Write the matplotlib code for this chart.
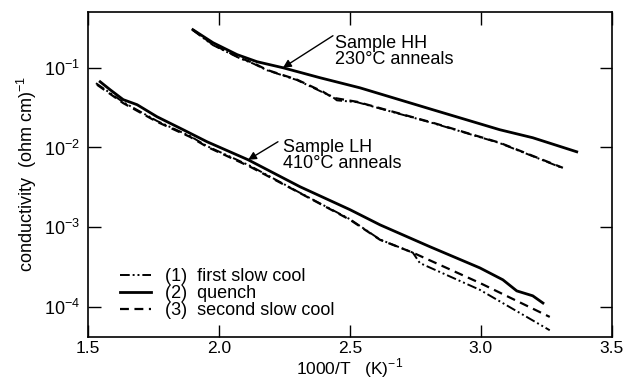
import numpy as np
import matplotlib
matplotlib.use('Agg')
from matplotlib import pyplot as plt

plt.rcParams['font.family'] = ['Liberation Sans', 'DejaVu Sans']
plt.rcParams['mathtext.fontset'] = 'custom'
plt.rcParams['mathtext.rm'] = 'Liberation Sans'

# sample HH (230 C anneals)
hh_x_q = [1.90, 1.977, 2.069, 2.145, 2.244, 2.385, 2.538, 2.817, 3.072, 3.198, 3.366]
hh_y_q = [0.300, 0.206, 0.146, 0.119, 0.100, 0.075, 0.056, 0.0297, 0.0167, 0.01325, 0.00883]
hh_x_s2 = [1.90, 1.977, 2.08, 2.13, 2.183, 2.298, 2.397, 2.435, 2.527, 2.817, 3.072, 3.313]
hh_y_s2 = [0.300, 0.195, 0.133, 0.115, 0.094, 0.0708, 0.050, 0.042, 0.0374, 0.0204, 0.01146, 0.00556]
hh_x_s1 = [1.90, 1.977, 2.08, 2.13, 2.183, 2.298, 2.397, 2.43, 2.45, 2.527, 2.817, 3.072, 3.313]
hh_y_s1 = [0.295, 0.192, 0.131, 0.113, 0.093, 0.070, 0.049, 0.044, 0.039, 0.0370, 0.0202, 0.01135, 0.0055]

# sample LH (410 C anneals)
lh_x_q = [1.546, 1.584, 1.634, 1.687, 1.763, 1.863, 1.954, 2.111, 2.309, 2.5, 2.615, 2.805, 2.996, 3.084, 3.137, 3.198, 3.237]
lh_y_q = [0.0667, 0.053, 0.0398, 0.0344, 0.0243, 0.0167, 0.0118, 0.00701, 0.00322, 0.00166, 0.00107, 5.7e-4, 3.09e-4, 2.19e-4, 1.59e-4, 1.38e-4, 1.12e-4]
lh_x_s2 = [1.534, 1.634, 1.763, 1.889, 1.954, 2.118, 2.309, 2.5, 2.615, 2.74, 2.996, 3.263]
lh_y_s2 = [0.0612, 0.036, 0.021, 0.0136, 0.0102, 0.00575, 0.00268, 0.00124, 6.95e-4, 4.8e-4, 2.0e-4, 7.5e-5]
lh_x_s1 = [1.53, 1.634, 1.763, 1.889, 1.954, 2.118, 2.309, 2.5, 2.615, 2.74, 2.767, 2.996, 3.263]
lh_y_s1 = [0.064, 0.037, 0.0215, 0.0139, 0.0104, 0.0059, 0.0027, 0.00126, 7.0e-4, 4.8e-4, 3.55e-4, 1.64e-4, 5.1e-5]

xticks = [1.5, 2.0, 2.5, 3.0, 3.5]
yticks = [1e-1, 1e-2, 1e-3, 1e-4]
ytick_labels = [r'10$^{-1}$', r'10$^{-2}$', r'10$^{-3}$', r'10$^{-4}$']
leg_labels = ['(1)  first slow cool', '(2)  quench', '(3)  second slow cool']

FS = 13

fig = plt.figure(figsize=(6.34, 3.81), dpi=100)
ax = fig.add_axes([0.139, 0.1155, 0.826, 0.853])

dd = (0, (5, 1.5, 1, 1.5, 1, 1.5))
ds = (0, (4, 2.5))
l1, = ax.plot(lh_x_s1, lh_y_s1, color='k', lw=1.4, linestyle=dd)
l2, = ax.plot(lh_x_q, lh_y_q, color='k', lw=2.0)
l3, = ax.plot(lh_x_s2, lh_y_s2, color='k', lw=1.6, linestyle=ds)
ax.plot(hh_x_s1, hh_y_s1, color='k', lw=1.4, linestyle=dd)
ax.plot(hh_x_q, hh_y_q, color='k', lw=2.0)
ax.plot(hh_x_s2, hh_y_s2, color='k', lw=1.6, linestyle=ds)

ax.set_yscale('log')
ax.set_xlim(1.5, 3.5)
ax.set_ylim(4.2e-5, 0.5)
ax.set_xticks(xticks)
ax.set_xticklabels(['%.1f' % v for v in xticks])
ax.set_yticks(yticks)
ax.set_yticklabels(ytick_labels)
ax.minorticks_off()
ax.tick_params(direction='in', length=9, width=1, top=True, right=True, labelsize=FS, pad=6)
ax.tick_params(axis='x', pad=3, labelsize=12.5)
for s in ax.spines.values():
    s.set_linewidth(1.2)

ax.set_ylabel(r'conductivity  (ohm cm)$^{-1}$', fontsize=FS, labelpad=3)
fig.text(0.552, 0.002, r'1000/T   (K)$^{-1}$', fontsize=12.5, ha='center', va='bottom')

arrow = dict(arrowstyle='-|>', color='k', lw=1, shrinkA=0, shrinkB=0, mutation_scale=12)
ax.annotate('', xy=(2.244, 0.100), xytext=(2.435, 0.252), arrowprops=arrow)
ax.text(2.443, 0.160, 'Sample HH\n230°C anneals', fontsize=FS, va='center', ha='left', linespacing=0.95)
ax.annotate('', xy=(2.111, 0.0070), xytext=(2.225, 0.0118), arrowprops=arrow)
ax.text(2.244, 0.0080, 'Sample LH\n410°C anneals', fontsize=FS, va='center', ha='left', linespacing=0.95)

ax.legend([l1, l2, l3], leg_labels, loc='lower left', bbox_to_anchor=(0.03, 0.005),
          frameon=False, fontsize=FS, handlelength=1.7, handletextpad=0.8, labelspacing=0.0)

plt.savefig('out.png', dpi=100)
